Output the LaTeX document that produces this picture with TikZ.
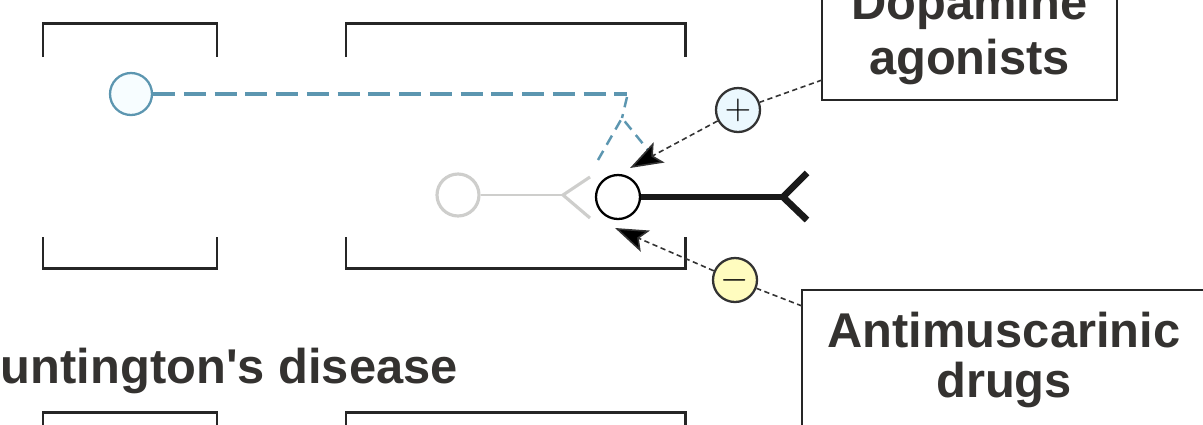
\documentclass[tikz,border=0pt]{standalone}
\usepackage{fontspec}
\setmainfont{Liberation Sans}
\usepackage{tikz}
\usetikzlibrary{arrows.meta}
\definecolor{dopablue}{RGB}{92,150,176}
\definecolor{faded}{RGB}{206,206,204}
\definecolor{inktext}{RGB}{52,50,48}

\begin{document}
\begin{tikzpicture}[x=0.02cm, y=-0.02cm,
  wall/.style={line width=1.7pt, draw=black!85},
  cell/.style={circle, minimum size=0.84cm, inner sep=0pt, line width=1.3pt},
  drugbox/.style={draw=black!85, line width=1.4pt, align=center, text=inktext,
    font=\bfseries\fontsize{27.8}{31.7}\selectfont},
  link/.style={line width=0.9pt, draw=black!80, densely dashed},
  tip/.style={-{Stealth[length=0.66cm, width=0.46cm, inset=0.14cm]}}
  ]
  \useasboundingbox (0,0) rectangle (1203,424);
  \clip (0,0) rectangle (1203,424);

  \draw[wall] (43,57) |- (217,23) -- (217,57);
  \draw[wall] (346,57) |- (685,23) -- (685,57);
  \draw[wall] (43,237) |- (217,268) -- (217,237);
  \draw[wall] (346,237) |- (685,268) -- (685,237);
  \draw[wall] (43,440) |- (217,412) -- (217,440);
  \draw[wall] (346,440) |- (685,412) -- (685,440);

  \node[cell, draw=dopablue, fill=cyan!3] (dacell) at (131,94) {};
  \node[cell, draw=faded, line width=1.8pt] (gcell) at (458,195) {};
  \node[cell, draw=black, fill=white, minimum size=0.88cm] (cho) at (618,197) {};
  \node[cell, draw=black!80, fill=cyan!8, minimum size=0.88cm,
    font=\fontsize{22}{22}\selectfont] (plus) at (738,110) {$+$};
  \node[cell, draw=black!80, fill=yellow!25, minimum size=0.88cm,
    font=\fontsize{22}{22}\selectfont] (minus) at (735,280) {$-$};

  \node[drugbox, minimum width=5.9cm, minimum height=2.62cm] (dopa) at (969.5,34.5)
    {Dopamine\\agonists};
  \node[drugbox, minimum width=8.08cm, minimum height=2.8cm,
    font=\bfseries\fontsize{27.8}{28.3}\selectfont] (antim) at (1004,360)
    {Antimuscarinic\\drugs};
  \node[anchor=base east, inner sep=0pt, text=inktext,
    font=\bfseries\fontsize{27.8}{31.7}\selectfont]
    (hd) at (458,383) {Huntington\textquotesingle s disease};

  \coordinate (dafork) at (622,118);
  \coordinate (gfork) at (563,195);
  \coordinate (axend) at (783,197);
  \coordinate (dopaport) at (822,80);
  \coordinate (antimport) at (802,306);
  \coordinate (ptip) at (630,168);
  \coordinate (mtip) at (615,228);

  \draw[dopablue, line width=2.3pt, dash pattern=on 12.5pt off 5pt] (dacell) -- (627,94);
  \draw[dopablue, line width=1.4pt, dash pattern=on 6pt off 4pt]
    (627,97) -- (dafork) (598,160) -- (dafork) -- (648,150);
  \draw[faded, line width=1.3pt] (gcell) -- (gfork);
  \draw[faded, line width=1.8pt] (590,177) -- (gfork) -- (590,218);
  \draw[line width=3.6pt, black!90] (cho) -- (axend);
  \draw[line width=3.8pt, black!90, line join=round] (807,173) -- (axend) -- (807,220);

  \path[link]
  (dopaport) edge (plus)
  (plus) edge[tip] (ptip)
  (antimport) edge (minus)
  (minus) edge[tip] (mtip)
  ;
\end{tikzpicture}
\end{document}
